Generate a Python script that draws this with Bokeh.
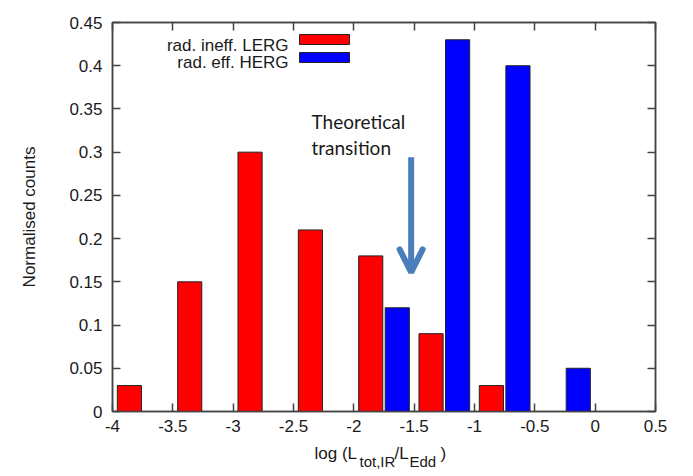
from bokeh.plotting import figure
from bokeh.layouts import column
from bokeh.models import Range1d, LinearAxis, FixedTicker, Label, Arrow, OpenHead, CustomJSTickFormatter
from bokeh.core.properties import value
from bokeh.embed import file_html
from bokeh.resources import INLINE

# ---- data ----
bin_centers = [-3.75, -3.25, -2.75, -2.25, -1.75, -1.25, -0.75, -0.25]
lerg = [0.03, 0.15, 0.30, 0.21, 0.18, 0.09, 0.03, 0.0]
herg = [0.0, 0.0, 0.0, 0.0, 0.12, 0.43, 0.40, 0.05]
series_names = ["rad. ineff. LERG", "rad. eff. HERG"]
x_ticks = [-4, -3.5, -3, -2.5, -2, -1.5, -1, -0.5, 0, 0.5]
x_tick_labels = ["-4", "-3.5", "-3", "-2.5", "-2", "-1.5", "-1", "-0.5", "0", "0.5"]
y_ticks = [0, 0.05, 0.1, 0.15, 0.2, 0.25, 0.3, 0.35, 0.4, 0.45]
y_tick_labels = ["0", "0.05", "0.1", "0.15", "0.2", "0.25", "0.3", "0.35", "0.4", "0.45"]
y_title = "Normalised counts"
x_title_parts = ["log (L", "tot,IR", "/L", "Edd", ")"]
note_lines = ["Theoretical", "transition"]
arrow_x = -1.525
arrow_y = [0.294, 0.161]

# ---- layout ----
W, H = 693, 476
H1 = 441                      # main figure height
FL, FR, FT, FB = 112, 655, 22, 411
XMIN, XMAX, YMIN, YMAX = -4, 0.5, 0, 0.45
OFF, BW = 0.11, 0.2

def xd(px):
    return XMIN + (px - FL) / (FR - FL) * (XMAX - XMIN)

def yd(py):
    return YMIN + (FB - py) / (FB - FT) * (YMAX - YMIN)

AX = "#444444"
FONT = "Liberation Sans"
TXT = "#1a1a1a"

p = figure(width=W, height=H1, output_backend="svg", toolbar_location=None,
           x_range=Range1d(XMIN, XMAX), y_range=Range1d(YMIN, YMAX),
           x_axis_location=None, y_axis_location=None)
p.min_border_left = FL
p.min_border_right = W - FR
p.min_border_top = FT
p.min_border_bottom = H1 - FB
p.grid.visible = False
p.outline_line_color = AX
p.outline_line_width = 1.5
p.background_fill_color = "white"
p.border_fill_color = "white"

empty = CustomJSTickFormatter(code="return ''")

def make_axis(ticks, labels, show):
    ax = LinearAxis(ticker=FixedTicker(ticks=ticks, minor_ticks=[]))
    ax.axis_line_color = AX
    ax.axis_line_width = 1.5
    ax.major_tick_line_color = AX
    ax.major_tick_line_width = 1.5
    ax.major_tick_in = 8
    ax.major_tick_out = 0
    ax.minor_tick_line_color = None
    if show:
        ax.major_label_overrides = {t: l for t, l in zip(ticks, labels)}
        ax.major_label_text_font = FONT
        ax.major_label_text_font_size = "17px"
        ax.major_label_text_color = TXT
    else:
        ax.formatter = empty
        ax.major_label_text_font_size = "0px"
    return ax

bottom = make_axis(x_ticks, x_tick_labels, True)
bottom.major_label_standoff = 8
p.add_layout(bottom, "below")
p.add_layout(make_axis(x_ticks, x_tick_labels, False), "above")
left = make_axis(y_ticks, y_tick_labels, True)
left.major_label_standoff = 10
left.axis_label = y_title
left.axis_label_text_font = FONT
left.axis_label_text_font_size = "17px"
left.axis_label_text_font_style = "normal"
left.axis_label_text_color = TXT
left.axis_label_standoff = 27
p.add_layout(left, "left")
p.add_layout(make_axis(y_ticks, y_tick_labels, False), "right")

# bars
rx = [c - OFF for c, v in zip(bin_centers, lerg) if v > 0]
rt = [v for v in lerg if v > 0]
bx = [c + OFF for c, v in zip(bin_centers, herg) if v > 0]
bt = [v for v in herg if v > 0]
p.vbar(x=rx, top=rt, bottom=0, width=BW, fill_color="#ff0000", line_color="#222222", line_width=1)
p.vbar(x=bx, top=bt, bottom=0, width=BW, fill_color="#0000ff", line_color="#222222", line_width=1)

# legend (manual: label then swatch)
for name, col, base, y0, y1 in [(series_names[0], "#ff0000", 45, 34, 44),
                                 (series_names[1], "#0000ff", 62, 52, 62)]:
    p.add_layout(Label(x=xd(288), y=yd(base), text=name, text_align="right",
                       text_baseline="alphabetic", text_font=FONT,
                       text_font_size="17px", text_color=TXT))
    p.quad(left=[xd(299)], right=[xd(349)], bottom=[yd(y1)], top=[yd(y0)],
           fill_color=col, line_color="#222222", line_width=1)

# annotation
for t, base in zip(note_lines, [121, 147]):
    p.add_layout(Label(x=xd(311), y=yd(base), text=t, text_align="left",
                       text_baseline="alphabetic", text_font="Lato",
                       text_font_size="19px", text_color="#1a1a1a"))
ACOL = "#4a7ebb"
p.add_layout(Arrow(x_start=arrow_x, y_start=arrow_y[0], x_end=arrow_x, y_end=arrow_y[1],
                   line_color=ACOL, line_width=6,
                   end=OpenHead(size=23, line_color=ACOL, line_width=6, line_cap="round")))

# x axis title (with subscripts) in a strip below the main figure
H2 = H - H1
q = figure(width=W, height=H2, output_backend="svg", toolbar_location=None,
           x_range=Range1d(XMIN, XMAX), y_range=Range1d(0, H2),
           x_axis_location=None, y_axis_location=None)
q.min_border_left = FL
q.min_border_right = W - FR
q.min_border_top = 0
q.min_border_bottom = 0
q.grid.visible = False
q.outline_line_color = None
q.border_fill_color = "white"
pos = [(314, 453, "17px"), (359, 461, "15px"), (394, 453, "17px"), (409, 461, "15px"), (440, 453, "17px")]
for t, (px, base, fs) in zip(x_title_parts, pos):
    q.text(x=[xd(px)], y=[H - base], text=[t], text_align="left", text_baseline="alphabetic",
           text_font=value(FONT), text_font_size=value(fs), text_color=TXT)

layout = column(p, q, spacing=0)
open("out.html", "w").write(file_html(layout, INLINE))
